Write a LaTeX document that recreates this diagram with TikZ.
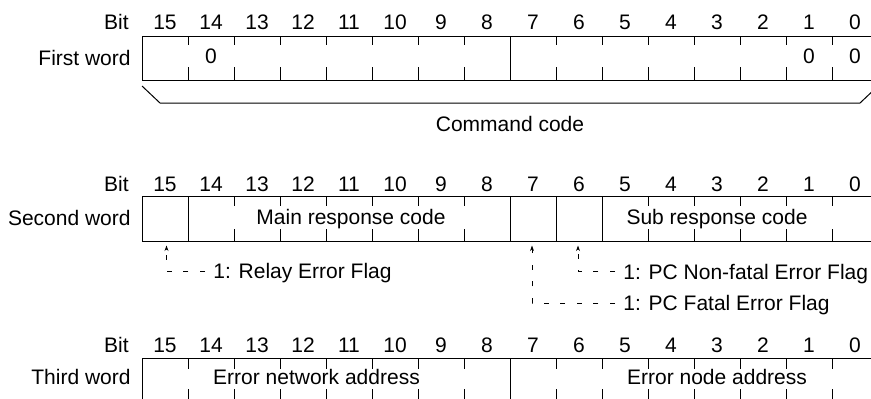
\documentclass[tikz,border=0pt]{standalone}
\usepackage{fontspec}
\setmainfont{Liberation Sans}
\usetikzlibrary{arrows.meta, positioning}

\begin{document}
\begin{tikzpicture}[x=0.5pt, y=-0.5pt, >=Stealth,
  every node/.style={font=\fontsize{10.5}{12}\selectfont, inner sep=1pt,
    text height=7.5pt, text depth=0pt},
  frame/.style={line width=0.5pt},
  flagline/.style={line width=0.5pt, dash pattern=on 2.5pt off 5.8pt,
    dash phase=5.3pt, -{Stealth[length=2.8pt, width=2pt]}}]
  \useasboundingbox (0,0) rectangle (871,398);
  \clip (0,0) rectangle (871,398);

  % First word
  \node[anchor=east] (bit1) at (131,22) {Bit};
  \foreach \b in {0,...,15}
    \node (w1b\b) at ({142+46*(15-\b)+23},22) {\b};
  \node[anchor=east] (word1) at (133,58) {First word};
  \draw[frame] (142,36) rectangle (878,80.5);
  \foreach \i in {1,...,15}
    \draw[frame] ({142+46*\i},36) -- +(0,9) ({142+46*\i},80.5) -- +(0,-13.5);
  \draw[frame] (510,36) -- (510,80.5);
  \node (w1v14) at (211,56) {0};
  \node (w1v1) at (809,56) {0};
  \node (w1v0) at (855,56) {0};

  % Command code bracket
  \draw[frame] (142,86) -- (160,103) -- (860,103) -- (878,86);
  \node (cmd) at (510,124) {Command code};

  % Second word
  \node[anchor=east] (bit2) at (131,184) {Bit};
  \foreach \b in {0,...,15}
    \node (w2b\b) at ({142+46*(15-\b)+23},184) {\b};
  \node[anchor=east] (word2) at (133,218) {Second word};
  \draw[frame] (142,196) rectangle (878,241.5);
  \foreach \i in {1,...,15}
    \draw[frame] ({142+46*\i},196) -- +(0,10) ({142+46*\i},241.5) -- +(0,-13);
  \foreach \x in {188,510,556,602}
    \draw[frame] (\x,196) -- (\x,241.5);
  \node (mainrc) at (351,217) {Main response code};
  \node (subrc) at (717,217) {Sub response code};

  % Error flags
  \coordinate (tip15) at (166.5,245.5);
  \coordinate (tip7) at (532,245.5);
  \coordinate (tip6) at (578,245.5);
  \node[anchor=west] (relay) at (211,271) {1: Relay Error Flag};
  \node[anchor=west] (nonfatal) at (621,271.5) {1: PC Non-fatal Error Flag};
  \node[anchor=west] (fatal) at (621,303) {1: PC Fatal Error Flag};
  \draw[flagline] (relay.west) -| (tip15);
  \draw[flagline] (nonfatal.west) -| (tip6);
  \draw[flagline] (fatal.west) -| (tip7);

  % Third word
  \node[anchor=east] (bit3) at (131,345) {Bit};
  \foreach \b in {0,...,15}
    \node (w3b\b) at ({142+46*(15-\b)+23},345) {\b};
  \node[anchor=east] (word3) at (133,377) {Third word};
  \draw[frame] (142,358.5) rectangle (878,403);
  \foreach \i in {1,...,15}
    \draw[frame] ({142+46*\i},358.5) -- +(0,10) ({142+46*\i},403) -- +(0,-14);
  \draw[frame] (510,358.5) -- (510,403);
  \node (netaddr) at (316.5,377) {Error network address};
  \node (nodeaddr) at (717,377) {Error node address};
\end{tikzpicture}
\end{document}
